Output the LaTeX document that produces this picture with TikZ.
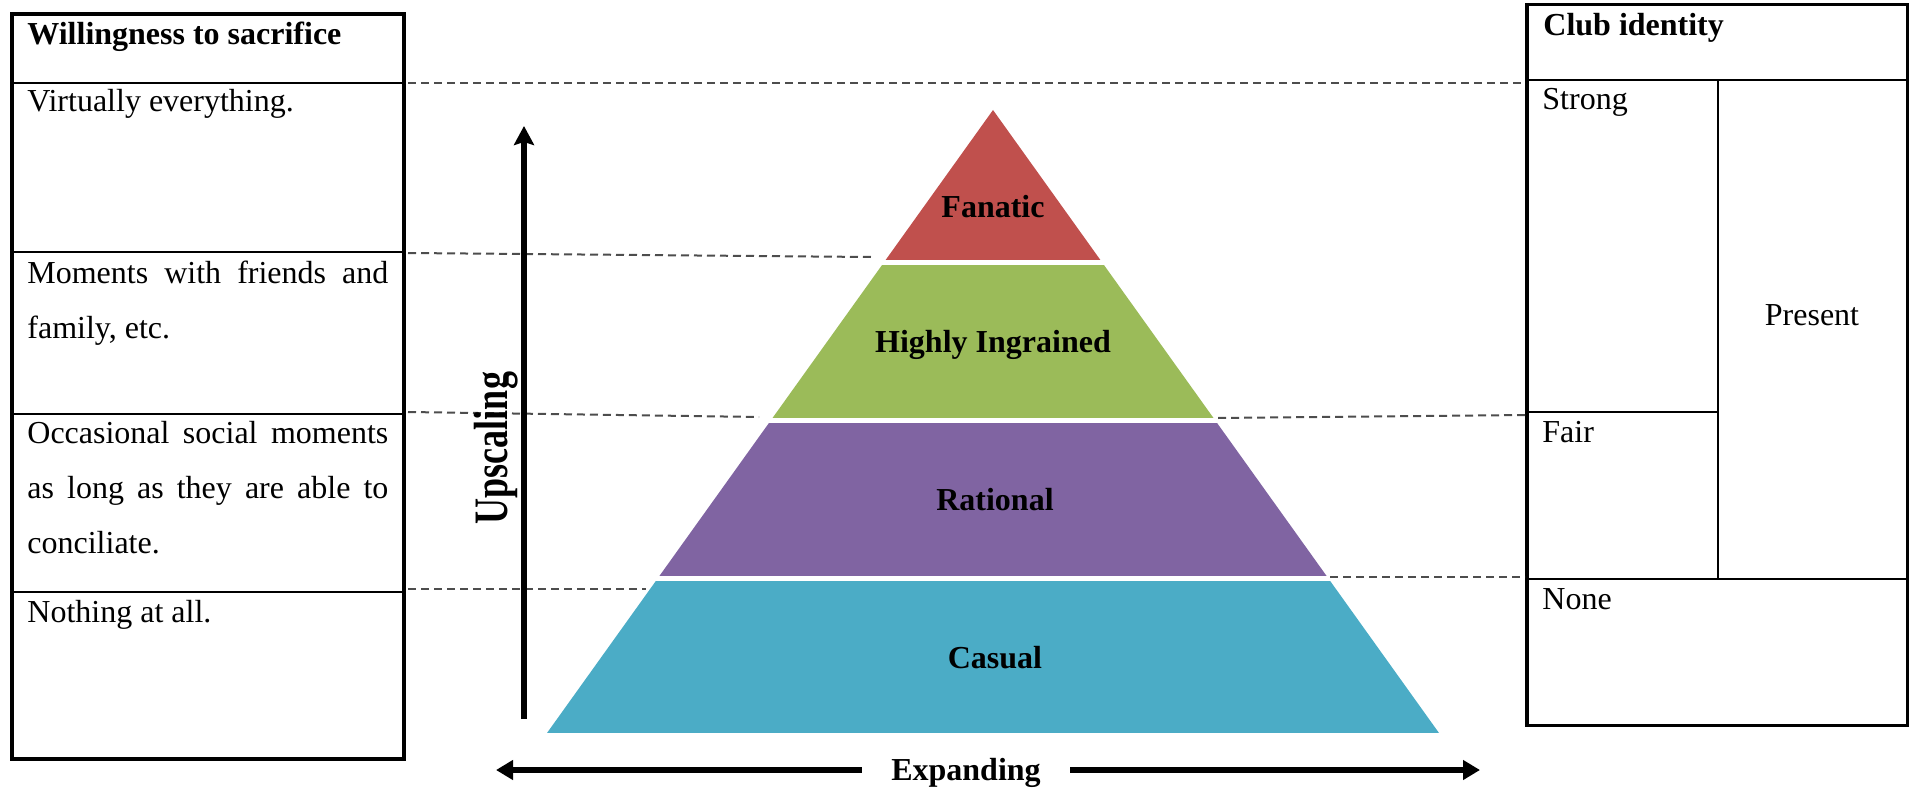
\documentclass[tikz,border=0pt]{standalone}
\usepackage{fontspec}
\usepackage{graphicx}
\setmainfont{Liberation Serif}
\usetikzlibrary{arrows.meta}
\definecolor{fanred}{HTML}{C0504D}
\definecolor{ingreen}{HTML}{9BBB59}
\definecolor{ratpurple}{HTML}{8064A2}
\definecolor{casblue}{HTML}{4BACC6}
\definecolor{dashgray}{HTML}{4D4D4D}
\tolerance=9999
\hyphenpenalty=10000
\exhyphenpenalty=10000
\begin{document}
\begin{tikzpicture}[x=0.5pt,y=-0.5pt,
  outerframe/.style={line width=2pt},
  innerline/.style={line width=1.1pt},
  guide/.style={dashgray, line width=1pt, dash pattern=on 4pt off 2.5pt},
  celltext/.style={anchor=base west, inner sep=0pt, font=\fontsize{16}{27.5}\selectfont},
  celltitle/.style={anchor=base west, inner sep=0pt, font=\fontsize{16}{27.5}\selectfont\bfseries},
  para/.style={celltext, text width=180.5pt, align=justify},
  layerlabel/.style={anchor=base, inner sep=0pt, font=\fontsize{16}{19}\selectfont\bfseries},
  bigarrow/.style={line width=3pt, -{Triangle[length=8.5pt,width=9.5pt]}},
  uparrow/.style={line width=2.8pt, -{Stealth[length=9.5pt,width=10pt,inset=1.5pt]}},
]
\useasboundingbox (0,0) rectangle (1910,792);

% ---------- left table ----------
\draw[outerframe] (12,14.5) rectangle (404,759);
\draw[innerline] (12,83) -- (404,83);
\draw[innerline] (12,252) -- (404,252);
\draw[innerline] (12,414) -- (404,414);
\draw[innerline] (12,592) -- (404,592);
\node[celltitle] (wtitle) at (27,45) {Willingness to sacrifice};
\node[celltext] (w1) at (27,112) {Virtually everything.};
\node[para] (w2) at (27,283) {Moments with friends and family, etc.};
\node[para] (w3) at (27,443) {Occasional social moments as long as they are able to conciliate.};
\node[celltext] (w4) at (27,622) {Nothing at all.};

% ---------- right table ----------
\draw[line width=1.7pt] (1527,4.5) rectangle (1907.5,725.5);
\draw[innerline] (1527,80) -- (1907.5,80);
\draw[innerline] (1718,80) -- (1718,579);
\draw[innerline] (1527,412) -- (1718,412);
\draw[innerline] (1527,579) -- (1907.5,579);
\node[celltitle] (ctitle) at (1543,36) {Club identity};
\node[celltext] (c1) at (1542,110) {Strong};
\node[celltext] (c2) at (1542,442) {Fair};
\node[celltext] (c3) at (1542,609) {None};
\node[anchor=base, inner sep=0pt, font=\fontsize{16}{19}\selectfont] (present) at (1812,325) {Present};

% ---------- pyramid ----------
\begin{scope}
  \clip (993,110) -- (547,733) -- (1439,733) -- cycle;
  \fill[fanred] (500,100) rectangle (1500,260);
  \fill[ingreen] (500,265) rectangle (1500,418);
  \fill[ratpurple] (500,423) rectangle (1500,576);
  \fill[casblue] (500,581) rectangle (1500,733);
\end{scope}
\node[layerlabel] (fan) at (993,217) {Fanatic};
\node[layerlabel] (ing) at (993,352) {Highly Ingrained};
\node[layerlabel] (rat) at (995,510) {Rational};
\node[layerlabel] (cas) at (995,668) {Casual};

% ---------- dashed guides ----------
\coordinate (g1a) at (408,83);   \coordinate (g1b) at (1525,83);
\coordinate (g2a) at (408,253);  \coordinate (g2b) at (871,257);
\coordinate (g3a) at (408,412);  \coordinate (g3b) at (759,417);
\coordinate (g4a) at (408,589);  \coordinate (g4b) at (646,589);
\coordinate (g5a) at (1218,418); \coordinate (g5b) at (1525,415);
\coordinate (g6a) at (1330,577); \coordinate (g6b) at (1525,577);
\draw[guide] (g1a) -- (g1b);
\draw[guide] (g2a) -- (g2b);
\draw[guide] (g3a) -- (g3b);
\draw[guide] (g4a) -- (g4b);
\draw[guide] (g5a) -- (g5b);
\draw[guide] (g6a) -- (g6b);

% ---------- upscaling arrow ----------
\coordinate (upbot) at (524,719);
\coordinate (uptop) at (524,126);
\draw[uparrow] (upbot) -- (uptop);
\node[rotate=90, anchor=base, inner sep=0pt, font=\fontsize{24}{28}\selectfont\bfseries] (ups) at (507,448) {\scalebox{0.75}[1]{Upscaling}};

% ---------- expanding arrows ----------
\node[anchor=base, inner xsep=14.5pt, inner ysep=0pt, font=\fontsize{16}{19}\selectfont\bfseries] (exp) at (966,780) {Expanding};
\coordinate (expL) at (496,770);
\coordinate (expR) at (1480,770);
\draw[bigarrow] (exp.west |- expL) -- (expL);
\draw[bigarrow] (exp.east |- expR) -- (expR);
\end{tikzpicture}
\end{document}
